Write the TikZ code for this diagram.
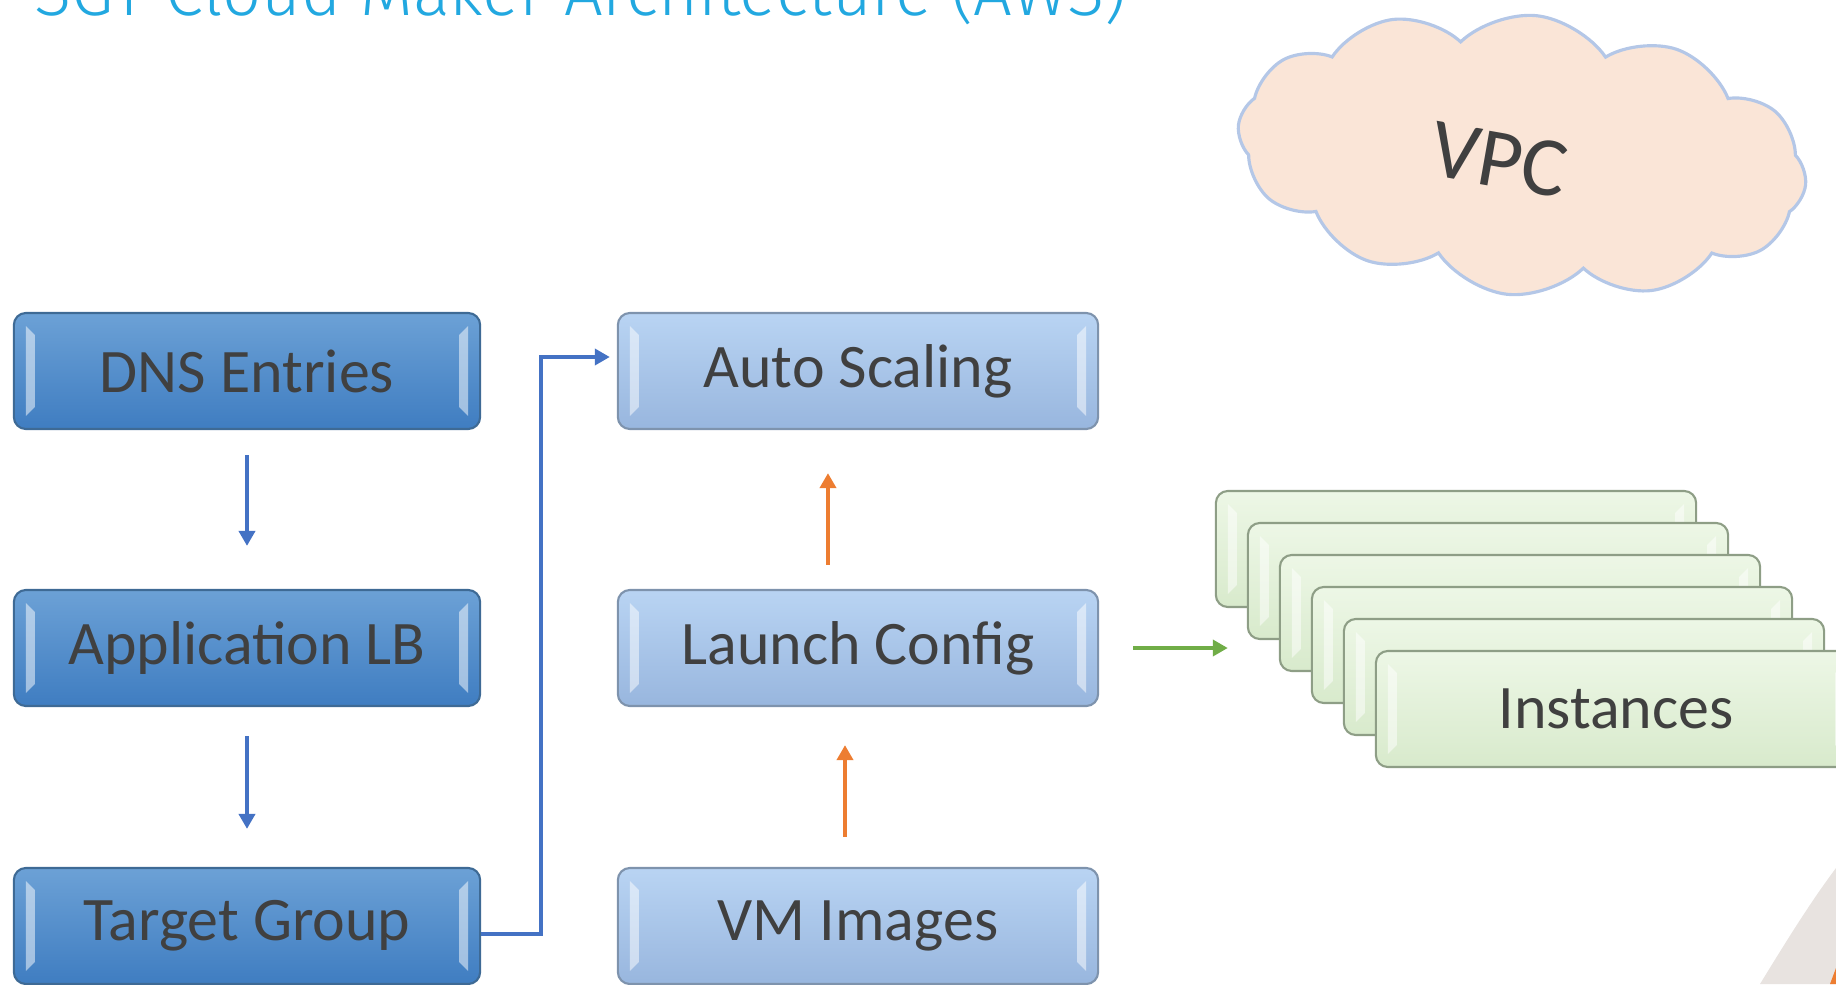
\documentclass[tikz,border=0pt]{standalone}
\usepackage{fontspec}
\setmainfont{Carlito}
\newfontfamily\titlefont{Fira Sans Light}
\usetikzlibrary{arrows.meta,calc,shapes.symbols}

\definecolor{txtC}{HTML}{404040}
\definecolor{ttlC}{HTML}{22A8E0}
\definecolor{bDT}{HTML}{6CA1D6}
\definecolor{bDB}{HTML}{3F7DC1}
\definecolor{bDE}{HTML}{3E6A95}
\definecolor{bLT}{HTML}{B9D4F3}
\definecolor{bLB}{HTML}{98B6DE}
\definecolor{bLE}{HTML}{7E93AD}
\definecolor{bGT}{HTML}{EDF7E6}
\definecolor{bGB}{HTML}{D8EACC}
\definecolor{bGE}{HTML}{8E9E86}
\definecolor{lnB}{HTML}{4472C4}
\definecolor{lnO}{HTML}{ED7D31}
\definecolor{lnG}{HTML}{70AD47}
\definecolor{clF}{HTML}{FAE5D7}
\definecolor{clE}{HTML}{B4C7E7}
\definecolor{crG}{HTML}{E8E3E0}

\tikzstyle{bV}=[path picture={
  \fill[white,opacity=0.5,sharp corners] ($(path picture bounding box.north west)+(0.12cm,-0.13cm)$) -- ($(path picture bounding box.north west)+(0.21cm,-0.22cm)$) -- ($(path picture bounding box.south west)+(0.21cm,0.22cm)$) -- ($(path picture bounding box.south west)+(0.12cm,0.13cm)$) -- cycle;
  \fill[white,opacity=0.5,sharp corners] ($(path picture bounding box.north east)+(-0.12cm,-0.13cm)$) -- ($(path picture bounding box.north east)+(-0.21cm,-0.22cm)$) -- ($(path picture bounding box.south east)+(-0.21cm,0.22cm)$) -- ($(path picture bounding box.south east)+(-0.12cm,0.13cm)$) -- cycle;
}]
\tikzstyle{bS}=[rectangle,rounded corners=0.12cm,minimum height=1.16cm,inner sep=0pt,line width=0.6pt,text=txtC,font=\fontsize{17.6}{20}\selectfont,bV]
\tikzstyle{bD}=[bS,minimum width=4.66cm,draw=bDE,top color=bDT,bottom color=bDB]
\tikzstyle{bL}=[bS,minimum width=4.80cm,draw=bLE,top color=bLT,bottom color=bLB]
\tikzstyle{bG}=[bS,minimum width=4.80cm,draw=bGE,top color=bGT,bottom color=bGB]
\tikzstyle{aS}=[line width=1.1pt,-{Triangle[length=0.15cm,width=0.16cm]}]
\tikzstyle{aB}=[aS,draw=lnB]
\tikzstyle{aO}=[aS,draw=lnO]
\tikzstyle{aG}=[aS,draw=lnG]
\tikzstyle{cS}=[cloud,cloud puffs=12,cloud puff arc=100,cloud ignores aspect,minimum width=5.7cm,minimum height=2.8cm,fill=clF,draw=clE,line width=0.9pt]
\tikzstyle{vS}=[inner sep=0pt,text=txtC,font=\fontsize{24}{28}\selectfont]
\tikzstyle{tS}=[inner sep=0pt,text=ttlC,font=\titlefont\fontsize{19.5}{23}\selectfont]

\begin{document}
\begin{tikzpicture}[x=0.01cm,y=-0.01cm]
                \useasboundingbox (0,0) rectangle (1836,984);
                \clip (0,0) rectangle (1836,984);
                % corner decoration
                \fill[crG] (1760,984) .. controls (1790,935) and (1812,900) .. (1836,868) -- (1836,984) -- cycle;
                \fill[lnO] (1830,984) -- (1836,968) -- (1836,984) -- cycle;
                % title and cloud
                \draw (34,15) node[tS,anchor=base west] (nT) {SGT Cloud Maker Architecture (AWS)};
                \draw (1522,155) node[cS,rotate=-6] (nVPC) {};
                \draw (1499,160) node[vS,rotate=-10] (nVPCt) {VPC};
                % left column
                \draw (247,371) node[bD] (nDNS) {DNS Entries};
                \draw (247,648) node[bD] (nALB) {Application LB};
                \draw (247,926) node[bD] (nTG) {Target Group};
                % middle column
                \draw (858,371) node[bL] (nAS) {Auto Scaling};
                \draw (858,648) node[bL] (nLC) {Launch Config};
                \draw (858,926) node[bL] (nVM) {VM Images};
                % instances stack
                \draw (1456,549) node[bG] (nI0) {};
                \draw (1488,581) node[bG] (nI1) {};
                \draw (1520,613) node[bG] (nI2) {};
                \draw (1552,645) node[bG] (nI3) {};
                \draw (1584,677) node[bG] (nI4) {};
                \draw (1616,709) node[bG] (nI5) {Instances};
                \path
                    (nDNS) edge[aB,shorten <=0.25cm,shorten >=0.43cm] (nALB)
                    (nALB) edge[aB,shorten <=0.29cm,shorten >=0.38cm] (nTG)
                ;
                \draw[aB,shorten >=0.07cm] ([yshift=-0.08cm]nTG.east) -- ++(0.6cm,0) |- ([yshift=0.14cm]nAS.west);
                \draw[aO,shorten <=0.30cm,shorten >=0.38cm] ([xshift=-0.13cm]nVM.north) -- ([xshift=-0.13cm]nLC.south);
                \draw[aO,shorten <=0.24cm,shorten >=0.43cm] ([xshift=-0.30cm]nLC.north) -- ([xshift=-0.30cm]nAS.south);
                \draw[aG,shorten <=0.34cm,shorten >=0.51cm] (nLC.east) -- (nLC.east -| nI2.west);
        \end{tikzpicture}
\end{document}
